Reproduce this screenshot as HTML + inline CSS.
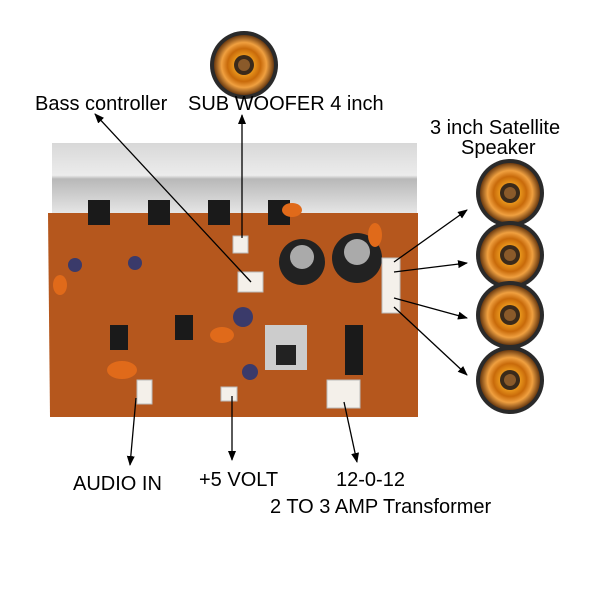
<!DOCTYPE html><html><head><style>body{margin:0;background:#fff;width:600px;height:600px;overflow:hidden}
text{font-family:"Liberation Sans",sans-serif;fill:#000}</style></head><body>
<svg width="600" height="600" viewBox="0 0 600 600">
<defs>
<radialGradient id="sp" cx="50%" cy="50%" r="50%"><stop offset="0" stop-color="#fff3c0"/><stop offset="0.25" stop-color="#f5a623"/><stop offset="0.55" stop-color="#c86a0a"/><stop offset="0.75" stop-color="#f0a040"/><stop offset="1" stop-color="#6a3a10"/></radialGradient>
<linearGradient id="hs" x1="0" y1="0" x2="0" y2="1"><stop offset="0" stop-color="#d8d8d8"/><stop offset="0.45" stop-color="#ececec"/><stop offset="0.5" stop-color="#b8b8b8"/><stop offset="1" stop-color="#e8e8e8"/></linearGradient>
<marker id="a" markerWidth="10" markerHeight="10" refX="9" refY="5" orient="auto" markerUnits="userSpaceOnUse"><path d="M0,1 L10,5 L0,9 z" fill="#000"/></marker>
<g id="spk"><circle r="34" fill="#2a2a2a"/><circle r="30" fill="url(#sp)"/><circle r="10" fill="#3a2a1a"/><circle r="6" fill="#8a5a2a"/></g>
</defs>
<rect x="52" y="143" width="365" height="72" fill="url(#hs)"/>
<polygon points="48,213 418,213 418,417 50,417" fill="#b5571d"/>
<g fill="#1a1a1a">
<rect x="88" y="200" width="22" height="25"/><rect x="148" y="200" width="22" height="25"/><rect x="208" y="200" width="22" height="25"/><rect x="268" y="200" width="22" height="25"/>
<rect x="110" y="325" width="18" height="25"/><rect x="175" y="315" width="18" height="25"/>
<rect x="345" y="325" width="18" height="50"/>
</g>
<circle cx="302" cy="262" r="23" fill="#222"/><circle cx="302" cy="257" r="12" fill="#aaa"/>
<circle cx="357" cy="258" r="25" fill="#222"/><circle cx="357" cy="252" r="13" fill="#aaa"/>
<rect x="265" y="325" width="42" height="45" fill="#ccc"/><rect x="276" y="345" width="20" height="20" fill="#222"/>
<g fill="#f4f0ea" stroke="#bbb"><rect x="233" y="236" width="15" height="17"/><rect x="238" y="272" width="25" height="20"/><rect x="382" y="258" width="18" height="55"/><rect x="137" y="380" width="15" height="24"/><rect x="221" y="387" width="16" height="14"/><rect x="327" y="380" width="33" height="28"/></g>
<g fill="#e06a1a"><ellipse cx="292" cy="210" rx="10" ry="7"/><ellipse cx="60" cy="285" rx="7" ry="10"/><ellipse cx="122" cy="370" rx="15" ry="9"/><ellipse cx="222" cy="335" rx="12" ry="8"/><ellipse cx="375" cy="235" rx="7" ry="12"/></g>
<g fill="#3a3a6a"><circle cx="75" cy="265" r="7"/><circle cx="135" cy="263" r="7"/><circle cx="250" cy="372" r="8"/><circle cx="243" cy="317" r="10"/></g>
<use href="#spk" x="244" y="65"/>
<use href="#spk" x="510" y="193"/><use href="#spk" x="510" y="255"/><use href="#spk" x="510" y="315"/><use href="#spk" x="510" y="380"/>
<g stroke="#000" stroke-width="1.3" fill="none" marker-end="url(#a)">
<line x1="251" y1="282" x2="95" y2="114"/>
<line x1="242" y1="238" x2="242" y2="115"/>
<line x1="394" y1="262" x2="467" y2="210"/>
<line x1="394" y1="272" x2="467" y2="263"/>
<line x1="394" y1="298" x2="467" y2="318"/>
<line x1="394" y1="307" x2="467" y2="375"/>
<line x1="136" y1="398" x2="130" y2="465"/>
<line x1="232" y1="396" x2="232" y2="460"/>
<line x1="344" y1="402" x2="357" y2="462"/>
</g>
<g font-size="20">
<text x="35" y="110">Bass controller</text>
<text x="188" y="110">SUB WOOFER 4 inch</text>
<text x="430" y="134">3 inch Satellite</text>
<text x="461" y="154">Speaker</text>
<text x="73" y="490">AUDIO IN</text>
<text x="199" y="486">+5 VOLT</text>
<text x="336" y="486">12-0-12</text>
<text x="270" y="513">2 TO 3 AMP Transformer</text>
</g>
</svg></body></html>
